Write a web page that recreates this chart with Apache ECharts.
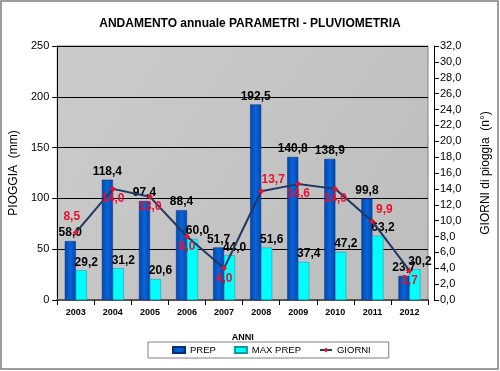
<!DOCTYPE html>
<html><head><meta charset="utf-8">
<script src="https://cdn.jsdelivr.net/npm/echarts@6/dist/echarts.min.js"></script>
<style>html,body{margin:0;padding:0;background:#fff}#c{width:500px;height:371px}</style>
</head><body><div id="c"></div>
<script>
var years = ['2003','2004','2005','2006','2007','2008','2009','2010','2011','2012'];
var prep = [58.0,118.4,97.4,88.4,51.7,192.5,140.8,138.9,99.8,23.7];
var maxPrep = [29.2,31.2,20.6,60.0,44.0,51.6,37.4,47.2,63.2,30.2];
var giorni = [8.5,14.0,13.0,8.0,4.0,13.7,14.6,14.0,9.9,3.7];

var giorniLabelPos = ['top','bottom','bottom','bottom','bottom','top','bottom','bottom','top','bottom'];
var giorniLabelOffset = [[-4,-4],[0,-2],[0,-2],[0,-2],[0,-2],[12,0],[0,-2],[0,-2],[12,0],[0,-2]];
function fmt(v, d){ return v.toFixed(d).replace('.', ','); }
var F = 'Liberation Sans, Arial, sans-serif';
var chart = echarts.init(document.getElementById('c'));
chart.setOption({
  animation:false,
  backgroundColor:'#fff',
  graphic:[{type:'rect',shape:{x:1,y:1,width:497,height:368},style:{fill:'none',stroke:'#7f7f7f',lineWidth:1.5}}],
  title:{text:'ANDAMENTO annuale PARAMETRI - PLUVIOMETRIA',left:'center',top:13,textStyle:{fontFamily:F,fontSize:12,fontWeight:'bold',color:'#000'}},
  grid:{left:55,right:64,top:46,bottom:71,show:true,backgroundColor:{type:'linear',x:0,y:0,x2:1,y2:1,colorStops:[{offset:0,color:'#cbcbcb'},{offset:1,color:'#bdbdbd'}]},borderColor:'#808080',borderWidth:1},
  legend:{bottom:13,left:148,itemGap:18,itemWidth:12,itemHeight:6,borderColor:'#808080',borderWidth:1,borderRadius:0,padding:[3,18,3,24],textStyle:{fontFamily:F,fontSize:9.5,color:'#000'},
    data:[{name:'PREP',icon:'rect'},{name:'MAX PREP',icon:'rect'},{name:'GIORNI'}]},
  xAxis:{type:'category',data:years,name:'ANNI',nameLocation:'middle',nameGap:33,nameTextStyle:{fontFamily:F,fontSize:9,fontWeight:'bold',color:'#000'},
    axisLine:{lineStyle:{color:'#555',width:2}},axisTick:{show:true,lineStyle:{color:'#000'}},axisLabel:{fontFamily:F,fontSize:9,fontWeight:'bold',color:'#000',margin:8}},
  yAxis:[
    {type:'value',min:0,max:250,interval:50,name:'PIOGGIA  (mm)',nameLocation:'middle',nameGap:28,nameTextStyle:{fontFamily:F,fontSize:12,color:'#000'},
     axisLine:{show:true,lineStyle:{color:'#000'}},axisTick:{show:true,lineStyle:{color:'#000'}},axisLabel:{fontFamily:F,fontSize:11,color:'#000'},splitLine:{lineStyle:{color:'#000',width:1}}},
    {type:'value',min:0,max:32,interval:2,name:'GIORNI di pioggia  (n°)',nameLocation:'middle',nameGap:46,nameRotate:90,nameTextStyle:{fontFamily:F,fontSize:12,color:'#000'},
     offset:6,axisLine:{show:true,lineStyle:{color:'#000'}},axisTick:{show:true,lineStyle:{color:'#000'}},axisLabel:{fontFamily:F,fontSize:11,color:'#000',margin:6,formatter:function(v){return fmt(v,1);}},splitLine:{show:false}}
  ],
  series:[
    {name:'PREP',type:'bar',data:prep,barWidth:11,barGap:'0%',itemStyle:{color:{type:'linear',x:0,y:0,x2:1,y2:0,colorStops:[{offset:0,color:'#0047b0'},{offset:0.5,color:'#0a64d8'},{offset:1,color:'#0047b0'}]},borderColor:'#08307a',borderWidth:0.5},
     label:{show:true,position:'top',distance:2,fontFamily:F,fontSize:12,fontWeight:'bold',color:'#000',formatter:function(p){return fmt(p.value,1);}}},
    {name:'MAX PREP',type:'bar',data:maxPrep,barWidth:11,itemStyle:{color:'#00ffff',borderColor:'#0099aa',borderWidth:0.5},
     label:{show:true,position:'top',distance:2,offset:[5,0],fontFamily:F,fontSize:12,fontWeight:'bold',color:'#000',formatter:function(p){return fmt(p.value,1);}}},
    {name:'GIORNI',type:'line',yAxisIndex:1,z:5,symbol:'diamond',symbolSize:6,lineStyle:{color:'#1f3864',width:2},itemStyle:{color:'#e8112d'},
     data:giorni.map(function(v,i){return {value:v,label:{position:giorniLabelPos[i],offset:giorniLabelOffset[i]}};}),
     label:{show:true,fontFamily:F,fontSize:12,fontWeight:'bold',color:'#e8112d',distance:3,formatter:function(p){return fmt(p.value,1);}}}
  ]
});
</script></body></html>
